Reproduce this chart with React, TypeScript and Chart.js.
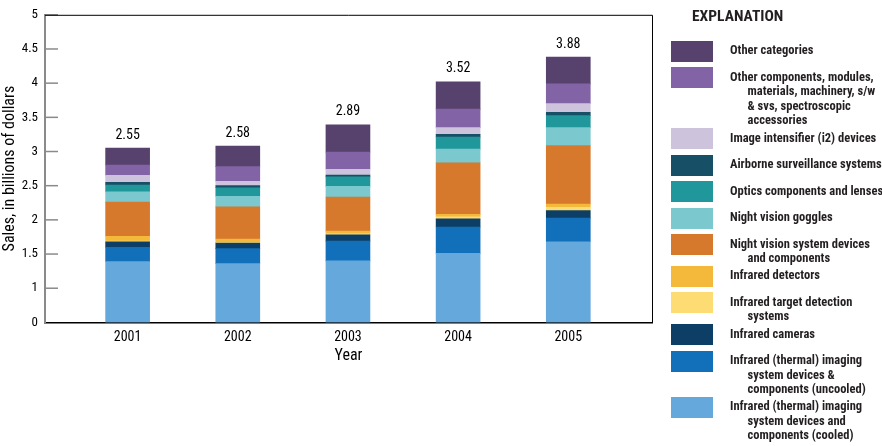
import React, { useEffect, useRef } from "react";
import { Chart, registerables } from "chart.js";

Chart.register(...registerables);

const categories = ["2001", "2002", "2003", "2004", "2005"];
const totalLabels = ["2.55", "2.58", "2.89", "3.52", "3.88"];
const yTickLabels = ["0", "1", "1.5", "2", "2.5", "3", "3.5", "4", "4.5", "5"];

const cooled = [0.89, 0.86, 0.9, 1.01, 1.18];
const uncooled = [0.21, 0.22, 0.29, 0.385, 0.345];
const cameras = [0.08, 0.08, 0.09, 0.12, 0.11];
const targetDetection = [0.01, 0.01, 0.015, 0.03, 0.05];
const detectors = [0.07, 0.05, 0.04, 0.035, 0.045];
const nightVision = [0.5, 0.47, 0.5, 0.755, 0.855];
const goggles = [0.15, 0.155, 0.155, 0.2, 0.265];
const optics = [0.1, 0.125, 0.14, 0.175, 0.175];
const airborne = [0.04, 0.03, 0.025, 0.04, 0.05];
const intensifier = [0.1, 0.065, 0.085, 0.1, 0.125];
const otherComponents = [0.15, 0.215, 0.25, 0.27, 0.29];
const otherCategories = [0.25, 0.3, 0.4, 0.4, 0.39];

// bottom-to-top stack order
const series = [
  { label: "Infrared (thermal) imaging\nsystem devices and\ncomponents (cooled)", data: cooled, color: "#64a8dc" },
  { label: "Infrared (thermal) imaging\nsystem devices &\ncomponents (uncooled)", data: uncooled, color: "#1170b9" },
  { label: "Infrared cameras", data: cameras, color: "#0d3f66" },
  { label: "Infrared target detection\nsystems", data: targetDetection, color: "#fddc74" },
  { label: "Infrared detectors", data: detectors, color: "#f4b93a" },
  { label: "Night vision system devices\nand components", data: nightVision, color: "#d6792d" },
  { label: "Night vision goggles", data: goggles, color: "#7bc9ce" },
  { label: "Optics components and lenses", data: optics, color: "#20979a" },
  { label: "Airborne surveillance systems", data: airborne, color: "#174f66" },
  { label: "Image intensifier (i2) devices", data: intensifier, color: "#cdc3dc" },
  { label: "Other components, modules,\nmaterials, machinery, s/w\n& svs, spectroscopic\naccessories", data: otherComponents, color: "#8264a6" },
  { label: "Other categories", data: otherCategories, color: "#56426d" },
];

const FONT = "'Liberation Sans Narrow', 'Arial Narrow', 'Roboto Condensed', Roboto, sans-serif";

const decorPlugin = {
  id: "decor",
  afterDatasetsDraw(chart: any) {
    const { ctx, chartArea, scales } = chart;
    const x = scales.x;
    const y = scales.y;
    ctx.save();
    // inner y ticks
    ctx.strokeStyle = "#8a8a8a";
    ctx.lineWidth = 1.5;
    y.ticks.forEach((t: any) => {
      const py = y.getPixelForValue(t.value);
      if (t.value === 0) return;
      ctx.beginPath();
      ctx.moveTo(chartArea.left, py);
      ctx.lineTo(chartArea.left + 13, py);
      ctx.stroke();
    });
    // frame top/right
    ctx.strokeStyle = "#000";
    ctx.lineWidth = 1;
    ctx.beginPath();
    ctx.moveTo(chartArea.left, chartArea.top + 0.5);
    ctx.lineTo(chartArea.right + 0.5, chartArea.top + 0.5);
    ctx.lineTo(chartArea.right + 0.5, chartArea.bottom);
    ctx.stroke();
    // totals
    ctx.fillStyle = "#000";
    ctx.font = `14px ${FONT}`;
    ctx.textAlign = "center";
    ctx.textBaseline = "middle";
    categories.forEach((c, i) => {
      let total = 0;
      chart.data.datasets.forEach((ds: any) => {
        total += ds.data[i].y;
      });
      const px = x.getPixelForValue(Number(c));
      const py = y.getPixelForValue(total);
      ctx.fillText(totalLabels[i], px, py - 13);
    });
    ctx.restore();
  },
};

export default function App() {
  const ref = useRef<HTMLCanvasElement | null>(null);

  useEffect(() => {
    document.body.style.margin = "0";
    if (!ref.current) return;
    const chart = new Chart(ref.current, {
      type: "bar",
      data: {
        datasets: series.map((s) => ({
          label: s.label,
          data: s.data.map((v, i) => ({ x: Number(categories[i]), y: v })),
          backgroundColor: s.color,
          borderWidth: 0,
          barThickness: 44,
        })),
      },
      options: {
        animation: false,
        responsive: false,
        devicePixelRatio: 1,
        layout: { padding: { left: 0, right: 230, top: 10, bottom: 80 } },
        plugins: { legend: { display: false }, tooltip: { enabled: false } },
        scales: {
          x: {
            type: "linear",
            stacked: true,
            min: 2000.25,
            max: 2005.76,
            offset: false,
            grid: { display: false, drawTicks: false },
            border: { display: true, color: "#000", width: 1.5 },
            afterBuildTicks: (scale: any) => {
              scale.ticks = categories.map((c) => ({ value: Number(c) }));
            },
            afterFit: (scale: any) => {
              scale.height = 43.6;
            },
            ticks: {
              color: "#000",
              padding: 7,
              font: { family: FONT, size: 14 },
              callback: (v: any) => {
                const i = categories.indexOf(String(v));
                return i >= 0 ? categories[i] : "";
              },
            },
            title: {
              display: true,
              text: "Year",
              color: "#000",
              font: { family: FONT, size: 16 },
              padding: 0,
            },
          },
          y: {
            stacked: true,
            min: 0,
            max: 4.5,
            grid: { display: false, drawTicks: false },
            border: { display: true, color: "#8a8a8a", width: 2 },
            afterFit: (scale: any) => {
              scale.width = 45;
            },
            ticks: {
              stepSize: 0.5,
              color: "#000",
              padding: 7,
              font: { family: FONT, size: 13 },
              callback: (_v: any, i: number) => yTickLabels[i],
            },
            title: {
              display: true,
              text: "Sales, in billions of dollars",
              color: "#000",
              font: { family: FONT, size: 16 },
              padding: 0,
            },
          },
        },
      },
      plugins: [decorPlugin],
    } as any);
    return () => chart.destroy();
  }, []);

  // legend layout (top to bottom = reverse stack)
  const legendItems = [...series].reverse();
  let top = 40.7;
  const placed = legendItems.map((s) => {
    const lines = s.label.split("\n");
    const item = { ...s, lines, top };
    top += lines.length === 1 ? 26.5 : lines.length * 14.6 + 2.5;
    return item;
  });

  return (
    <div style={{ position: "relative", width: 882, height: 446, overflow: "hidden", background: "#fff" }}>
      <canvas ref={ref} width={882} height={446} style={{ position: "absolute", left: 0, top: 0 }} />
      <div
        style={{
          position: "absolute",
          left: 692,
          top: 6,
          fontFamily: FONT,
          fontWeight: "bold",
          fontSize: 15.5,
          lineHeight: "20px",
          color: "#231f20",
        }}
      >
        EXPLANATION
      </div>
      {placed.map((it, k) => (
        <React.Fragment key={k}>
          <div
            style={{
              position: "absolute",
              left: 671,
              top: it.top,
              width: 42,
              height: 21,
              background: it.color,
            }}
          />
          <div
            style={{
              position: "absolute",
              left: 730,
              top: it.top + 2.5,
              fontFamily: FONT,
              fontWeight: "bold",
              fontSize: 12.5,
              lineHeight: "14.6px",
              color: "#231f20",
              whiteSpace: "nowrap",
            }}
          >
            {it.lines.map((ln, j) => (
              <div key={j} style={{ paddingLeft: j > 0 ? 17.5 : 0 }}>
                {ln}
              </div>
            ))}
          </div>
        </React.Fragment>
      ))}
    </div>
  );
}
